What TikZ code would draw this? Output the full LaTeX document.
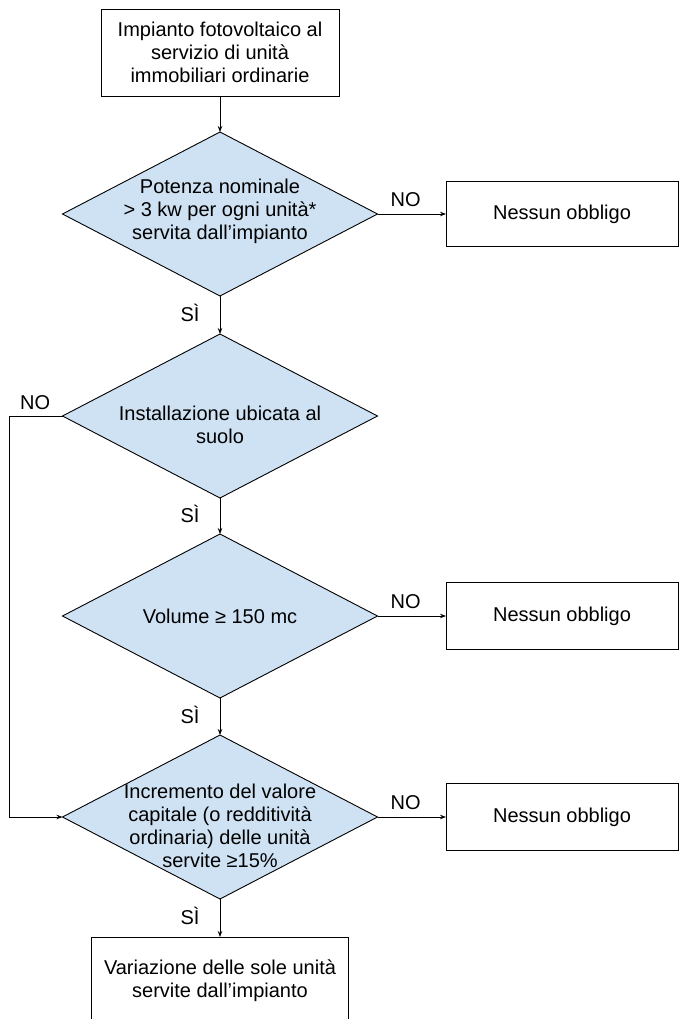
\documentclass[tikz,border=0pt]{standalone}
\usepackage{fontspec}
\setmainfont{Liberation Sans}
\usetikzlibrary{shapes.geometric,arrows.meta}
\definecolor{lblue}{HTML}{CFE2F3}
\begin{document}
\begin{tikzpicture}[x=1pt,y=-1pt,
  every node/.style={font=\fontsize{20}{23}\selectfont},
  box/.style={draw, line width=0.9pt, inner sep=0pt, outer sep=0pt, align=center},
  decision/.style={diamond, draw, fill=lblue, line width=0.9pt, inner sep=0pt, outer sep=0pt, minimum width=315pt, minimum height=164pt},
  dtext/.style={align=center, inner sep=0pt},
  conn/.style={line width=0.9pt, -{Stealth[length=6pt,width=4.5pt]}},
  lab/.style={inner sep=0pt}]
\path[use as bounding box] (0,0) rectangle (679,1019);
\clip (0,0) rectangle (679,1019);

\node[box, minimum width=238pt, minimum height=87pt] (start) at (220,52.5)
  {Impianto fotovoltaico al\\servizio di unità\\immobiliari ordinarie};

\node[decision] (d1) at (220,214) {};
\node[dtext] (d1t) at (220,211) {Potenza nominale\\> 3 kw per ogni unità*\\servita dall’impianto};
\node[box, minimum width=232pt, minimum height=65pt] (n1) at (562,214) {Nessun obbligo};

\node[decision] (d2) at (220,416) {};
\node[dtext] (d2t) at (220,425) {Installazione ubicata al\\suolo};

\node[decision] (d3) at (220,616) {};
\node[dtext] (d3t) at (220,616) {Volume ≥ 150 mc};
\node[box, minimum width=232pt, minimum height=67pt] (n2) at (562,616) {Nessun obbligo};

\node[decision] (d4) at (220,817) {};
\node[dtext] (d4t) at (220,826) {Incremento del valore\\capitale (o redditività\\ordinaria) delle unità\\servite ≥15\%};
\node[box, minimum width=232pt, minimum height=67pt] (n3) at (562,817) {Nessun obbligo};

\node[box, minimum width=257pt, minimum height=87pt] (fin) at (220,980.5)
  {Variazione delle sole unità\\servite dall’impianto};

\coordinate (lft) at (9,0);

\draw[conn] (start.south) -- (d1.north);
\draw[conn] (d1.east) -- node[lab, above=7pt, pos=0.41] (no1) {NO} (n1.west);
\draw[conn] (d1.south) -- node[lab, left=20pt, pos=0.45] (si1) {SÌ} (d2.north);
\draw[conn] (d2.west) -- node[lab, above=6pt, pos=0.51] (no2) {NO} (d2.west -| lft) |- (d4.west);
\draw[conn] (d2.south) -- node[lab, left=20pt, pos=0.45] (si2) {SÌ} (d3.north);
\draw[conn] (d3.east) -- node[lab, above=7pt, pos=0.41] (no3) {NO} (n2.west);
\draw[conn] (d3.south) -- node[lab, left=20pt, pos=0.45] (si3) {SÌ} (d4.north);
\draw[conn] (d4.east) -- node[lab, above=7pt, pos=0.41] (no4) {NO} (n3.west);
\draw[conn] (d4.south) -- node[lab, left=20pt, pos=0.45] (si4) {SÌ} (fin.north);
\end{tikzpicture}
\end{document}
